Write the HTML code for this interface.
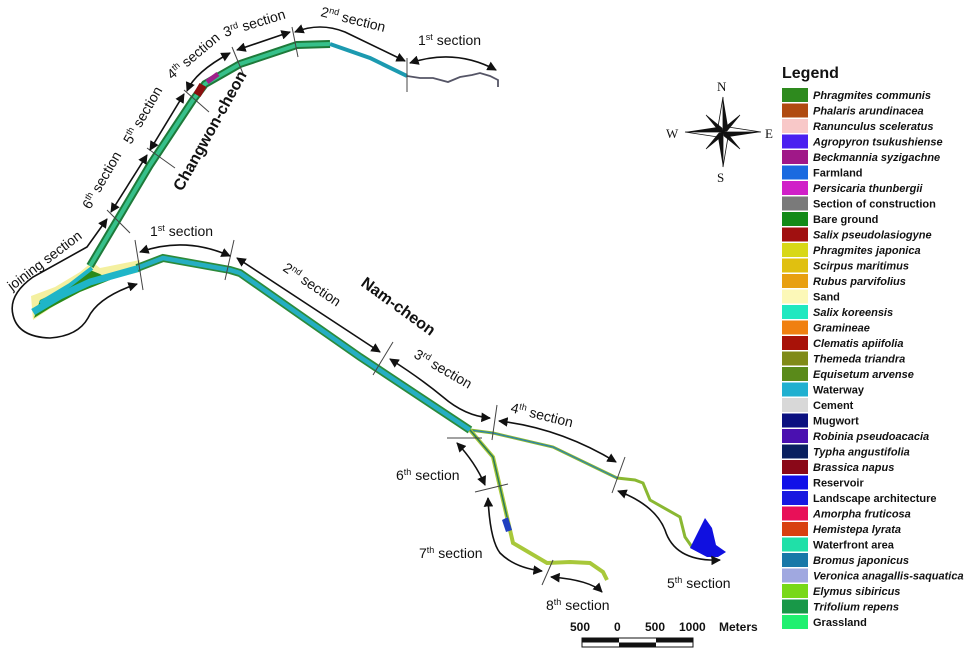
<!DOCTYPE html>
<html><head><meta charset="utf-8"><style>
html,body{margin:0;padding:0;background:#fff;}
svg{display:block;font-family:"Liberation Sans",Arial,sans-serif;}
.t{font-size:14px;fill:#111;}
.b{font-size:16px;font-weight:bold;fill:#111;}
.l{font-size:11px;font-weight:bold;fill:#111;}
.i{font-style:italic;}
.a{fill:none;stroke:#111;stroke-width:1.6;marker-start:url(#ah);marker-end:url(#ah);}
.k{stroke:#444;stroke-width:1;}
</style></head><body>
<svg width="969" height="650" viewBox="0 0 969 650" xmlns="http://www.w3.org/2000/svg">
<defs>
<marker id="ah" viewBox="0 0 10 10" refX="9" refY="5" markerWidth="6" markerHeight="6" orient="auto-start-reverse"><path d="M0,0L10,5L0,10z" fill="#111"/></marker>
</defs>

<polygon points="31,296 55,287 80,272 92,262 100,268 140,260 140,272 95,283 60,302 33,320" fill="#f4f0a0"/>
<polygon points="40,300 70,286 90,270 100,274 110,280 80,292 50,308 34,318" fill="#2a8a1a"/>
<path d="M33,312 L60,296 L90,282 L140,268" stroke="#1fb5c8" stroke-width="7" fill="none"/>
<path d="M40,303 L70,285 L92,268" stroke="#1fb5c8" stroke-width="4" fill="none"/>

<polyline points="90,266 150,165 193,100 205,84 240,64 297,45 330,44" fill="none" stroke="#1e7a3a" stroke-width="8"/>
<polyline points="90,266 150,165 193,100 205,84 240,64 297,45 330,44" fill="none" stroke="#36c08a" stroke-width="4"/>
<polyline points="197,95 203,85" stroke="#8b1010" stroke-width="8" fill="none"/>
<polyline points="207,82 218,74" stroke="#a0208a" stroke-width="5" fill="none"/>
<polyline points="330,44 370,58 407,76" fill="none" stroke="#1c9ab0" stroke-width="4"/>
<polyline points="407,76 420,78 433,78 448,82 460,77 472,75 480,73 490,76 498,80 498,87" fill="none" stroke="#556" stroke-width="1.8"/>

<polyline points="137,268 163,258 230,270 240,273 300,315 360,357 470,430" fill="none" stroke="#2c8a3a" stroke-width="8"/>
<polyline points="137,268 163,258 230,270 240,273 300,315 360,357 470,430" fill="none" stroke="#25aec2" stroke-width="4.5"/>
<polyline points="470,430 493,433 553,447 617,478 635,480 643,483 650,500 680,517 685,537 692,547" fill="none" stroke="#8ab832" stroke-width="3"/>
<polyline points="470,430 493,433 553,447 617,478" fill="none" stroke="#2a7fb0" stroke-width="1.2"/>
<polyline points="470,430 493,457 500,487 507,517 513,543 547,563 570,562 590,563 603,572 607,580" fill="none" stroke="#a8c83a" stroke-width="4"/>
<polyline points="470,430 493,457 500,487 507,517" fill="none" stroke="#2a7a5a" stroke-width="1.5"/>
<polygon points="502,520 508,517 512,530 506,532" fill="#2040c0"/>
<polygon points="690,548 700,528 705,518 712,528 716,545 726,552 718,557 707,557" fill="#1010e0"/>

<line class="k" x1="407" y1="58" x2="407" y2="92"/>
<line class="k" x1="292" y1="27" x2="298" y2="57"/>
<line class="k" x1="232" y1="47" x2="244" y2="76"/>
<line class="k" x1="184" y1="90" x2="209" y2="112"/>
<line class="k" x1="147" y1="148" x2="175" y2="168"/>
<line class="k" x1="107" y1="210" x2="130" y2="233"/>

<path class="a" d="M410,63 Q455,48 496,70"/>
<path class="a" d="M295,32 Q320,22 345,32 L405,61"/>
<path class="a" d="M237,50 L290,32"/>
<path class="a" d="M187,91 Q195,72 230,53"/>
<path class="a" d="M150,150 L184,94"/>
<path class="a" d="M111,212 L147,155"/>
<path class="a" d="M107,219 L87,247 Q60,262 33,277 Q8,295 13,315 Q18,337 50,338 Q78,336 88,318 Q98,297 137,284"/>

<line class="k" x1="135" y1="240" x2="143" y2="290"/>
<line class="k" x1="234" y1="240" x2="225" y2="280"/>
<line class="k" x1="393" y1="342" x2="373" y2="375"/>
<line class="k" x1="497" y1="405" x2="492" y2="440"/>
<line class="k" x1="625" y1="457" x2="612" y2="493"/>
<line class="k" x1="447" y1="438" x2="482" y2="438"/>
<line class="k" x1="475" y1="492" x2="508" y2="484"/>
<line class="k" x1="553" y1="560" x2="542" y2="585"/>

<path class="a" d="M140,252 Q185,236 230,256"/>
<path class="a" d="M237,258 L380,352"/>
<path class="a" d="M390,359 Q420,378 443,397 Q465,416 490,418"/>
<path class="a" d="M499,421 Q560,428 616,462"/>
<path class="a" d="M618,491 Q655,505 665,530 Q675,562 720,560"/>
<path class="a" d="M457,443 Q475,462 485,485"/>
<path class="a" d="M488,498 Q490,540 500,553 Q515,568 542,571"/>
<path class="a" d="M551,577 Q590,580 602,592"/>

<text class="t" x="418" y="45">1<tspan font-size="9" dy="-5">st</tspan><tspan dy="5"> section</tspan></text>
<text class="t" transform="translate(320,16) rotate(14)">2<tspan font-size="9" dy="-5">nd</tspan><tspan dy="5"> section</tspan></text>
<text class="t" transform="translate(225,37) rotate(-17)">3<tspan font-size="9" dy="-5">rd</tspan><tspan dy="5"> section</tspan></text>
<text class="t" transform="translate(172,80) rotate(-40)">4<tspan font-size="9" dy="-5">th</tspan><tspan dy="5"> section</tspan></text>
<text class="t" transform="translate(131,145) rotate(-60)">5<tspan font-size="9" dy="-5">th</tspan><tspan dy="5"> section</tspan></text>
<text class="t" transform="translate(90,210) rotate(-60)">6<tspan font-size="9" dy="-5">th</tspan><tspan dy="5"> section</tspan></text>
<text class="t" transform="translate(12,291) rotate(-37)">joining section</text>
<text class="b" transform="translate(182,192) rotate(-61)">Changwon-cheon</text>

<text class="t" x="150" y="236">1<tspan font-size="9" dy="-5">st</tspan><tspan dy="5"> section</tspan></text>
<text class="t" transform="translate(282,270) rotate(34)">2<tspan font-size="9" dy="-5">nd</tspan><tspan dy="5"> section</tspan></text>
<text class="b" transform="translate(360,285) rotate(36)">Nam-cheon</text>
<text class="t" transform="translate(413,357) rotate(30)">3<tspan font-size="9" dy="-5">rd</tspan><tspan dy="5"> section</tspan></text>
<text class="t" transform="translate(510,412) rotate(14)">4<tspan font-size="9" dy="-5">th</tspan><tspan dy="5"> section</tspan></text>
<text class="t" x="667" y="588">5<tspan font-size="9" dy="-5">th</tspan><tspan dy="5"> section</tspan></text>
<text class="t" x="396" y="480">6<tspan font-size="9" dy="-5">th</tspan><tspan dy="5"> section</tspan></text>
<text class="t" x="419" y="558">7<tspan font-size="9" dy="-5">th</tspan><tspan dy="5"> section</tspan></text>
<text class="t" x="546" y="610">8<tspan font-size="9" dy="-5">th</tspan><tspan dy="5"> section</tspan></text>

<g font-size="12" font-weight="bold" fill="#111">
<text x="570" y="631">500</text><text x="614" y="631">0</text><text x="645" y="631">500</text><text x="679" y="631">1000</text><text x="719" y="631">Meters</text>
</g>
<rect x="582" y="638" width="111" height="9" fill="#fff" stroke="#111" stroke-width="1"/>
<rect x="582" y="638" width="37" height="4.5" fill="#111"/>
<rect x="619" y="642.5" width="37" height="4.5" fill="#111"/>
<rect x="656" y="638" width="37" height="4.5" fill="#111"/>

<g transform="translate(723,132)">
<polygon points="0,-35 5,-5 0,0" fill="#111"/><polygon points="0,-35 -5,-5 0,0" fill="#fff" stroke="#111" stroke-width="0.8"/>
<polygon points="0,35 -5,5 0,0" fill="#111"/><polygon points="0,35 5,5 0,0" fill="#fff" stroke="#111" stroke-width="0.8"/>
<polygon points="-38,0 -5,-5 0,0" fill="#111"/><polygon points="-38,0 -5,5 0,0" fill="#fff" stroke="#111" stroke-width="0.8"/>
<polygon points="38,0 5,5 0,0" fill="#111"/><polygon points="38,0 5,-5 0,0" fill="#fff" stroke="#111" stroke-width="0.8"/>
<polygon points="17,-17 4,-1 0,0 1,-4" fill="#111" stroke="#111" stroke-width="0.6"/>
<polygon points="-17,-17 -1,-4 0,0 -4,-1" fill="#111" stroke="#111" stroke-width="0.6"/>
<polygon points="17,17 1,4 0,0 4,1" fill="#111" stroke="#111" stroke-width="0.6"/>
<polygon points="-17,17 -4,1 0,0 -1,4" fill="#111" stroke="#111" stroke-width="0.6"/>
</g>
<g font-family="Liberation Serif,serif" font-size="13" fill="#111">
<text x="717" y="91">N</text><text x="717" y="182">S</text><text x="666" y="138">W</text><text x="765" y="138">E</text>
</g>

<text x="782" y="78" font-size="16" font-weight="bold" fill="#111">Legend</text>
<g>
<rect x="782" y="88" width="26" height="14" fill="#2e8a1e"/><text class="l i" x="813" y="99">Phragmites communis</text>
<rect x="782" y="103.5" width="26" height="14" fill="#b04a10"/><text class="l i" x="813" y="114.5">Phalaris arundinacea</text>
<rect x="782" y="119" width="26" height="14" fill="#f8c8c8"/><text class="l i" x="813" y="130">Ranunculus sceleratus</text>
<rect x="782" y="134.5" width="26" height="14" fill="#4a20f0"/><text class="l i" x="813" y="145.5">Agropyron tsukushiense</text>
<rect x="782" y="150" width="26" height="14" fill="#a01888"/><text class="l i" x="813" y="161">Beckmannia syzigachne</text>
<rect x="782" y="165.5" width="26" height="14" fill="#1a6ae0"/><text class="l" x="813" y="176.5">Farmland</text>
<rect x="782" y="181" width="26" height="14" fill="#d020c8"/><text class="l i" x="813" y="192">Persicaria thunbergii</text>
<rect x="782" y="196.5" width="26" height="14" fill="#7a7a7a"/><text class="l" x="813" y="207.5">Section of construction</text>
<rect x="782" y="212" width="26" height="14" fill="#138a18"/><text class="l" x="813" y="223">Bare ground</text>
<rect x="782" y="227.5" width="26" height="14" fill="#a01010"/><text class="l i" x="813" y="238.5">Salix pseudolasiogyne</text>
<rect x="782" y="243" width="26" height="14" fill="#d8d818"/><text class="l i" x="813" y="254">Phragmites japonica</text>
<rect x="782" y="258.5" width="26" height="14" fill="#e0c010"/><text class="l i" x="813" y="269.5">Scirpus maritimus</text>
<rect x="782" y="274" width="26" height="14" fill="#e8a010"/><text class="l i" x="813" y="285">Rubus parvifolius</text>
<rect x="782" y="289.5" width="26" height="14" fill="#fcf8b8"/><text class="l" x="813" y="300.5">Sand</text>
<rect x="782" y="305" width="26" height="14" fill="#20e8c0"/><text class="l i" x="813" y="316">Salix koreensis</text>
<rect x="782" y="320.5" width="26" height="14" fill="#f08010"/><text class="l i" x="813" y="331.5">Gramineae</text>
<rect x="782" y="336" width="26" height="14" fill="#a81208"/><text class="l i" x="813" y="347">Clematis apiifolia</text>
<rect x="782" y="351.5" width="26" height="14" fill="#808a18"/><text class="l i" x="813" y="362.5">Themeda triandra</text>
<rect x="782" y="367" width="26" height="14" fill="#5a8a1a"/><text class="l i" x="813" y="378">Equisetum arvense</text>
<rect x="782" y="382.5" width="26" height="14" fill="#20b0d0"/><text class="l" x="813" y="393.5">Waterway</text>
<rect x="782" y="398" width="26" height="14" fill="#d8d8d8"/><text class="l" x="813" y="409">Cement</text>
<rect x="782" y="413.5" width="26" height="14" fill="#0a1080"/><text class="l" x="813" y="424.5">Mugwort</text>
<rect x="782" y="429" width="26" height="14" fill="#4a10b0"/><text class="l i" x="813" y="440">Robinia pseudoacacia</text>
<rect x="782" y="444.5" width="26" height="14" fill="#0a2060"/><text class="l i" x="813" y="455.5">Typha angustifolia</text>
<rect x="782" y="460" width="26" height="14" fill="#8a0818"/><text class="l i" x="813" y="471">Brassica napus</text>
<rect x="782" y="475.5" width="26" height="14" fill="#1010e8"/><text class="l" x="813" y="486.5">Reservoir</text>
<rect x="782" y="491" width="26" height="14" fill="#1818e0"/><text class="l" x="813" y="502">Landscape architecture</text>
<rect x="782" y="506.5" width="26" height="14" fill="#e81058"/><text class="l i" x="813" y="517.5">Amorpha fruticosa</text>
<rect x="782" y="522" width="26" height="14" fill="#d84010"/><text class="l i" x="813" y="533">Hemistepa lyrata</text>
<rect x="782" y="537.5" width="26" height="14" fill="#20e0a8"/><text class="l" x="813" y="548.5">Waterfront area</text>
<rect x="782" y="553" width="26" height="14" fill="#1878a8"/><text class="l i" x="813" y="564">Bromus japonicus</text>
<rect x="782" y="568.5" width="26" height="14" fill="#a0a8e0"/><text class="l i" x="813" y="579.5">Veronica anagallis-saquatica</text>
<rect x="782" y="584" width="26" height="14" fill="#78d818"/><text class="l i" x="813" y="595">Elymus sibiricus</text>
<rect x="782" y="599.5" width="26" height="14" fill="#189848"/><text class="l i" x="813" y="610.5">Trifolium repens</text>
<rect x="782" y="615" width="26" height="14" fill="#20f070"/><text class="l" x="813" y="626">Grassland</text>
</g>
</svg>
</body></html>
